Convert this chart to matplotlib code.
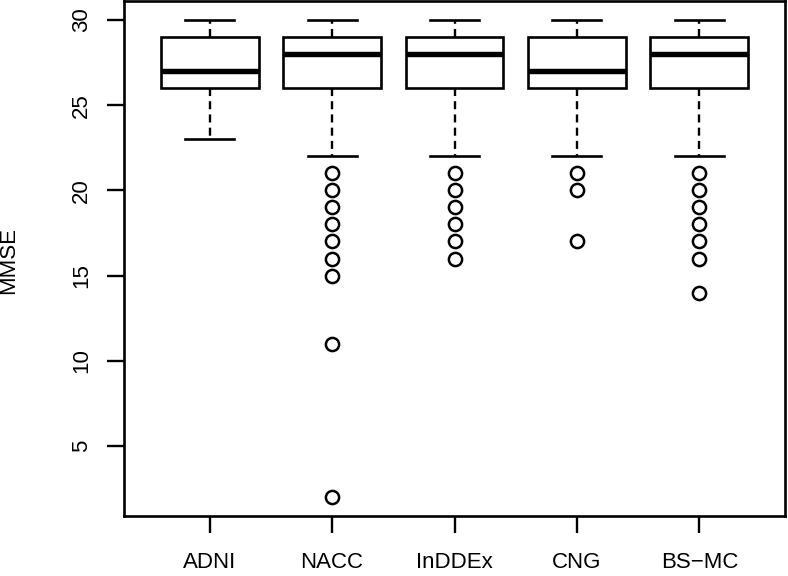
import matplotlib
matplotlib.use("Agg")
import matplotlib.pyplot as plt

# group names and five-number summaries
groups = ["ADNI", "NACC", "InDDEx", "CNG", "BS\u2212MC"]
whislo = [23, 22, 22, 22, 22]
q1 = [26, 26, 26, 26, 26]
med = [27, 28, 28, 27, 28]
q3 = [29, 29, 29, 29, 29]
whishi = [30, 30, 30, 30, 30]
fliers = [
    [],
    [21, 20, 19, 18, 17, 16, 15, 11, 2],
    [21, 20, 19, 18, 17, 16],
    [21, 20, 17],
    [21, 20, 19, 18, 17, 16, 14],
]
yticks = [5, 10, 15, 20, 25, 30]

plt.rcParams['font.family'] = ['Liberation Sans', 'DejaVu Sans']

fig = plt.figure(figsize=(7.88, 5.76), dpi=100)
ax = fig.add_axes([124 / 788, (576 - 516) / 576, (785 - 124) / 788, (516 - 1) / 576])

stats = []
for i, g in enumerate(groups):
    stats.append({
        'label': g, 'whislo': whislo[i], 'q1': q1[i], 'med': med[i],
        'q3': q3[i], 'whishi': whishi[i], 'fliers': fliers[i],
    })

positions = list(range(1, len(groups) + 1))
ax.bxp(stats, positions=positions, widths=0.8, patch_artist=True,
       boxprops=dict(facecolor='white', edgecolor='black', linewidth=1.9),
       medianprops=dict(color='black', linewidth=3.9, solid_capstyle='butt'),
       whiskerprops=dict(color='black', linewidth=1.7, linestyle=(0, (3.4, 2.2))),
       capprops=dict(color='black', linewidth=1.9),
       flierprops=dict(marker='o', markersize=9.5, markerfacecolor='none',
                       markeredgecolor='black', markeredgewidth=1.8),
       capwidths=0.4)

lo, hi = 2, 30
ext = 0.04 * (hi - lo)
ax.set_ylim(lo - ext, hi + ext)
ax.set_xlim(0.5 - 0.2, len(groups) + 0.5 + 0.2)

fs = 16
ax.set_yticks(yticks)
ax.set_yticklabels([str(t) for t in yticks], rotation=90, va='center', fontsize=fs)
ax.set_xticks(positions)
ax.set_xticklabels(groups, fontsize=fs)
ax.tick_params(axis='both', length=12, width=1.7, color='black')
ax.tick_params(axis='y', pad=11)
ax.tick_params(axis='x', pad=14)
for s in ax.spines.values():
    s.set_linewidth(1.9)

fig.text(9 / 788, 1 - 261 / 576, "MMSE", rotation=90, ha='center', va='center', fontsize=fs)

fig.savefig("out.png", dpi=100)
